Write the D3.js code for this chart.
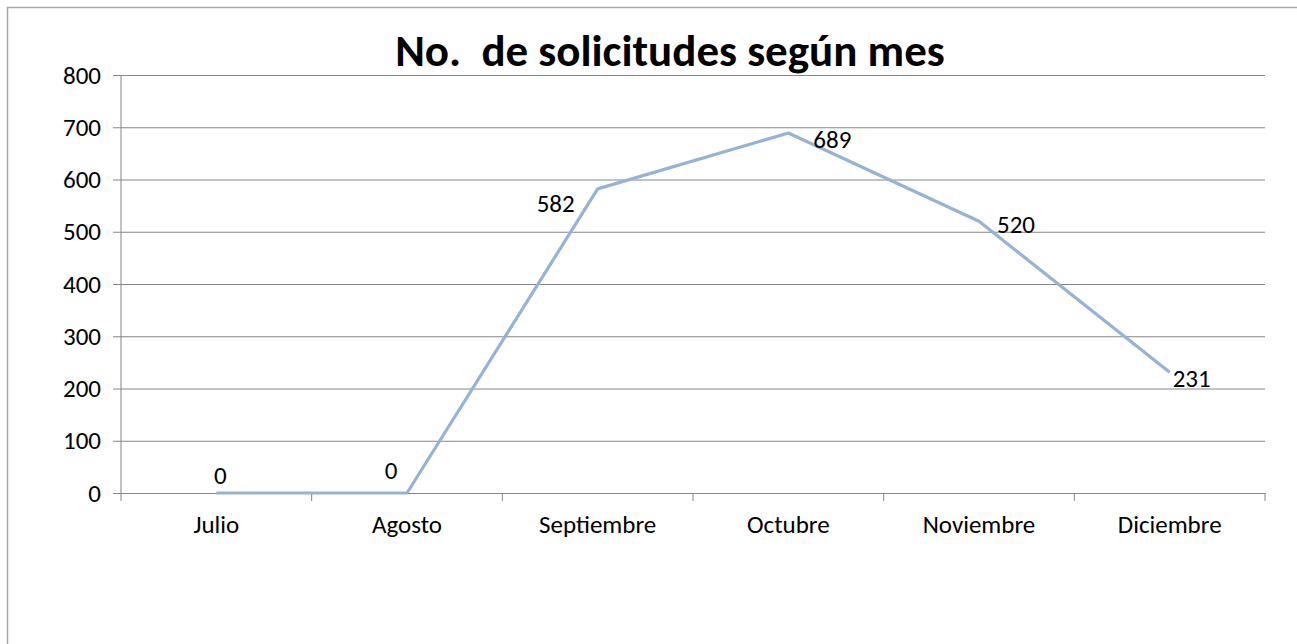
<!DOCTYPE html>
<html>
<head>
<meta charset="utf-8">
<script src="https://cdn.jsdelivr.net/npm/d3@7"></script>
<style>
  body { margin: 0; background: #fff; }
  text { font-family: Carlito, Lato, "Liberation Sans", sans-serif; }
</style>
</head>
<body>
<div id="chart"></div>
<script>
// chart data
var months = ["Julio", "Agosto", "Septiembre", "Octubre", "Noviembre", "Diciembre"];
var requests = [0, 0, 582, 689, 520, 231];
var yTicks = [0, 100, 200, 300, 400, 500, 600, 700, 800];
var chartTitle = "No.  de solicitudes según mes";

// label nudge (px) from each point, like Excel placed them
var labelDx = [4, -16, -42, 44, 37, 22];
var labelDy = [-18, -23, 14, 6, 3, 6];

var svgWidth = 1297;
var svgHeight = 644;

var margin = { top: 75, right: 32, bottom: 151, left: 121 };
var width = svgWidth - margin.left - margin.right;
var height = svgHeight - margin.top - margin.bottom;

var svg = d3.select("#chart")
  .append("svg")
  .attr("width", svgWidth)
  .attr("height", svgHeight);

// outer chart border (runs off the right and bottom edges)
svg.append("rect")
  .attr("x", 7.5)
  .attr("y", 7.5)
  .attr("width", svgWidth + 10)
  .attr("height", svgHeight + 10)
  .attr("fill", "none")
  .attr("stroke", "#a6a6a6")
  .attr("stroke-width", 1.5);

var chartGroup = svg.append("g")
  .attr("transform", `translate(${margin.left}, ${margin.top})`);

var xScale = d3.scaleBand()
  .domain(months)
  .range([0, width]);

var yScale = d3.scaleLinear()
  .domain([0, 800])
  .range([height, 0]);

// gridlines + y axis
var leftAxis = d3.axisLeft(yScale)
  .tickValues(yTicks)
  .tickSize(-width)
  .tickPadding(20);

var yAxis = chartGroup.append("g").call(leftAxis);
yAxis.select(".domain").remove();
yAxis.selectAll(".tick line")
  .attr("stroke", "#868686")
  .attr("x1", -8);
yAxis.selectAll("text")
  .attr("font-size", 25)
  .attr("fill", "#000");

// vertical axis line
chartGroup.append("line")
  .attr("x1", 0).attr("x2", 0)
  .attr("y1", 0).attr("y2", height)
  .attr("stroke", "#868686");

// x axis with category ticks between bands
var bottomAxis = d3.axisBottom(xScale).tickSize(0).tickPadding(22);
var xAxis = chartGroup.append("g")
  .attr("transform", `translate(0, ${height})`)
  .call(bottomAxis);
xAxis.select(".domain").attr("stroke", "#868686");
xAxis.selectAll("text")
  .attr("font-size", 25)
  .attr("fill", "#000");

chartGroup.append("g")
  .selectAll("line")
  .data(d3.range(months.length + 1))
  .enter()
  .append("line")
  .attr("x1", i => i * xScale.step())
  .attr("x2", i => i * xScale.step())
  .attr("y1", height)
  .attr("y2", height + 8)
  .attr("stroke", "#868686");

var cx = d => xScale(d) + xScale.bandwidth() / 2;

// the line
var line = d3.line()
  .x((d, i) => cx(months[i]))
  .y(d => yScale(d));

chartGroup.append("path")
  .datum(requests)
  .attr("d", line)
  .attr("fill", "none")
  .attr("stroke", "#95b3d7")
  .attr("stroke-width", 3.2)
  .attr("stroke-linejoin", "round");

// data labels
chartGroup.selectAll(".dataLabel")
  .data(requests)
  .enter()
  .append("text")
  .attr("class", "dataLabel")
  .attr("font-size", 25)
  .attr("fill", "#000")
  .attr("text-anchor", "middle")
  .attr("x", (d, i) => cx(months[i]) + labelDx[i])
  .attr("y", (d, i) => yScale(d) + labelDy[i])
  .attr("dy", "0.35em")
  .text(d => d);

// title
svg.append("text")
  .attr("x", 670)
  .attr("y", 50)
  .attr("dy", "0.35em")
  .attr("text-anchor", "middle")
  .attr("font-size", 45)
  .attr("font-weight", "bold")
  .attr("fill", "#000")
  .style("white-space", "pre")
  .text(chartTitle);
</script>
</body>
</html>
